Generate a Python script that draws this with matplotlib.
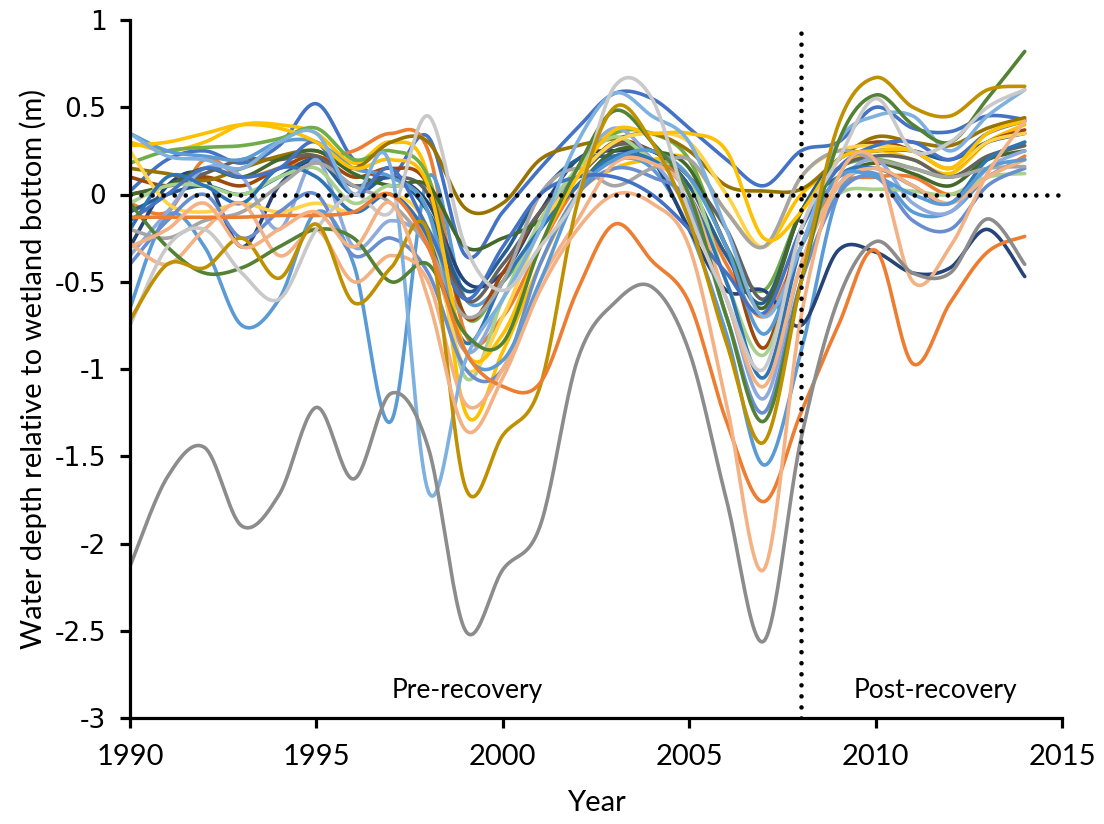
import numpy as np
import matplotlib
matplotlib.use("Agg")
import matplotlib.pyplot as plt

years = list(range(1990, 2015))

# water depth per wetland, one value per year 1990..2014
blue_a = [0.02, 0.2, 0.25, 0.18, 0.28, 0.52, 0.2, 0.1, 0.33, -0.35, -0.1, 0.15, 0.38, 0.58, 0.55, 0.38, 0.2, 0.05, 0.25, 0.3, 0.5, 0.38, 0.36, 0.45, 0.43]
orange_a = [-0.13, -0.13, -0.13, -0.13, -0.12, -0.12, -0.1, 0.0, -0.3, -0.9, -1.1, -1.08, -0.55, -0.17, -0.38, -0.62, -1.3, -1.76, -1.25, -0.75, -0.32, -0.97, -0.62, -0.33, -0.24]
orange_b = [-0.05, -0.1, 0.2, 0.1, 0.15, 0.2, 0.25, 0.35, 0.25, -0.8, -0.7, -0.3, 0.05, 0.2, 0.2, 0.05, -0.4, -0.7, -0.3, 0.05, 0.1, 0.1, 0.0, 0.1, 0.22]
gold_a = [0.3, 0.25, 0.3, 0.4, 0.4, 0.35, 0.18, 0.3, 0.1, -1.25, -0.9, -0.4, 0.0, 0.15, 0.2, 0.2, -0.1, -0.3, 0.0, 0.15, 0.25, 0.2, 0.12, 0.3, 0.4]
ltblue_a = [-0.65, -0.12, -0.3, -0.75, -0.6, -0.1, -0.4, -1.3, 0.1, -0.6, -0.5, -0.2, 0.05, 0.2, 0.15, -0.2, -0.8, -1.55, -0.9, 0.0, 0.12, -0.1, -0.1, 0.1, 0.2]
sky_a = [0.35, 0.22, 0.2, 0.15, 0.3, 0.35, 0.0, 0.15, -1.7, -0.95, -0.6, -0.2, 0.3, 0.58, 0.45, 0.3, -0.2, -0.7, -0.3, 0.3, 0.45, 0.45, 0.25, 0.45, 0.6]
green_a = [0.18, 0.25, 0.27, 0.28, 0.32, 0.38, 0.2, 0.25, 0.1, -0.7, -0.5, -0.2, 0.15, 0.35, 0.35, 0.2, -0.3, -0.55, -0.1, 0.15, 0.2, 0.15, 0.1, 0.2, 0.3]
dkgreen_a = [-0.05, -0.3, -0.45, -0.42, -0.3, -0.2, -0.25, -0.5, -0.4, -0.8, -0.85, -0.3, 0.15, 0.48, 0.3, 0.0, -0.7, -1.3, -0.5, 0.3, 0.57, 0.4, 0.3, 0.55, 0.82]
dkblue_a = [-0.3, 0.05, 0.1, -0.3, 0.05, 0.2, 0.05, 0.1, -0.05, -0.5, -0.45, -0.1, 0.2, 0.25, 0.2, -0.2, -0.55, -0.55, -0.75, -0.32, -0.33, -0.45, -0.42, -0.2, -0.47]
brown_a = [0.1, 0.05, 0.1, 0.05, 0.15, 0.22, 0.1, 0.15, 0.05, -0.7, -0.45, -0.1, 0.1, 0.3, 0.25, 0.1, -0.3, -0.88, -0.2, 0.2, 0.3, 0.25, 0.15, 0.3, 0.37]
dkgrey_a = [0.0, 0.05, 0.12, 0.2, 0.2, 0.22, 0.05, 0.1, 0.0, -0.6, -0.4, -0.1, 0.1, 0.28, 0.25, 0.1, -0.2, -0.6, -0.1, 0.15, 0.22, 0.2, 0.1, 0.22, 0.28]
olive_a = [0.15, 0.12, 0.08, 0.15, 0.22, 0.25, 0.15, 0.3, 0.3, -0.08, -0.05, 0.2, 0.28, 0.32, 0.35, 0.25, 0.05, 0.02, 0.03, 0.2, 0.33, 0.3, 0.28, 0.38, 0.44]
steel_a = [-0.1, 0.0, 0.05, 0.0, 0.1, 0.2, 0.0, 0.1, -0.1, -0.55, -0.35, 0.0, 0.2, 0.22, 0.25, 0.05, -0.35, -0.62, -0.1, 0.2, 0.25, 0.25, 0.2, 0.3, 0.35]
dkgreen_b = [0.0, 0.05, 0.15, 0.1, 0.2, 0.25, 0.12, 0.05, 0.05, -0.3, -0.25, -0.15, 0.05, 0.25, 0.25, 0.15, -0.3, -0.65, -0.1, 0.1, 0.18, 0.12, 0.05, 0.2, 0.25]
periw_a = [-0.35, -0.1, 0.15, 0.1, -0.2, 0.2, -0.3, -0.15, -0.3, -0.9, -0.6, -0.2, 0.15, 0.38, 0.2, -0.1, -0.6, -1.17, -0.4, 0.05, 0.2, -0.05, -0.1, 0.15, 0.25]
ltgrey_a = [-0.75, -0.3, -0.2, -0.45, -0.6, -0.2, 0.0, -0.1, 0.45, -0.3, -0.55, -0.3, 0.0, 0.62, 0.55, -0.1, -0.6, -1.0, -0.2, 0.2, 0.55, 0.25, 0.3, 0.5, 0.6]
ltgreen_a = [-0.05, 0.05, 0.05, 0.0, 0.1, 0.15, -0.05, 0.05, -0.1, -1.05, -0.6, -0.15, 0.15, 0.33, 0.2, 0.1, -0.5, -0.92, -0.3, 0.0, 0.03, 0.02, 0.0, 0.1, 0.12]
yellow_a = [0.25, -0.05, -0.1, -0.05, -0.1, -0.05, -0.1, 0.0, -0.2, -1.0, -0.7, -0.2, 0.1, 0.3, 0.35, 0.3, 0.0, -0.3, 0.1, 0.25, 0.28, 0.25, 0.15, 0.3, 0.35]
medblue_a = [-0.2, 0.1, 0.05, -0.05, 0.15, 0.1, -0.1, 0.0, -0.25, -0.85, -0.5, -0.2, 0.05, 0.22, 0.2, 0.0, -0.5, -1.05, -0.3, 0.1, 0.15, 0.05, -0.05, 0.2, 0.3]
cornfl_a = [-0.4, -0.15, 0.0, -0.25, -0.1, 0.0, -0.35, -0.25, -0.45, -1.0, -1.0, -0.4, 0.0, 0.15, 0.1, -0.05, -0.7, -1.25, -0.5, 0.0, 0.1, -0.15, -0.2, 0.05, 0.15]
grey_b = [-0.2, -0.25, -0.15, -0.1, 0.05, 0.18, 0.05, -0.05, -0.3, -0.7, -0.5, 0.0, 0.15, 0.05, 0.15, 0.2, -0.1, -0.3, 0.1, 0.25, 0.2, 0.15, 0.1, 0.15, 0.16]
peach_a = [-0.28, -0.4, -0.2, -0.05, -0.35, -0.2, -0.5, -0.35, -0.5, -1.2, -1.0, -0.5, -0.15, 0.18, 0.18, 0.0, -0.6, -1.1, -0.4, 0.05, 0.15, 0.05, -0.05, 0.1, 0.2]
ltblue_b = [0.35, 0.25, 0.22, 0.2, 0.3, 0.3, 0.15, 0.1, -0.1, -0.9, -0.95, -0.5, 0.0, 0.2, 0.25, 0.1, -0.3, -0.8, -0.3, 0.1, 0.1, 0.0, -0.05, 0.15, 0.2]
blue_b = [-0.15, 0.0, 0.15, 0.1, 0.15, 0.3, 0.0, 0.15, -0.2, -0.6, -0.3, 0.0, 0.1, 0.1, 0.0, -0.2, -0.45, -0.68, -0.2, 0.15, 0.28, 0.3, 0.2, 0.35, 0.42]
gold_b = [0.28, 0.3, 0.35, 0.4, 0.38, 0.3, 0.15, 0.2, 0.05, -0.9, -0.8, -0.3, 0.1, 0.37, 0.35, 0.35, 0.25, -0.25, -0.1, 0.2, 0.25, 0.25, 0.15, 0.35, 0.42]
mustard_a = [-0.72, -0.4, -0.42, -0.25, -0.48, -0.17, -0.62, -0.42, -0.22, -1.68, -1.38, -1.1, -0.05, 0.5, 0.3, -0.15, -0.85, -1.42, -0.5, 0.4, 0.67, 0.5, 0.45, 0.6, 0.62]
salmon_a = [-0.3, -0.2, -0.05, -0.3, -0.2, -0.1, -0.3, -0.05, -0.6, -1.35, -1.05, -0.55, -0.2, 0.0, -0.05, -0.3, -1.2, -2.15, -0.7, 0.1, 0.19, -0.5, -0.3, 0.12, 0.42]
grey_low = [-2.13, -1.62, -1.45, -1.9, -1.72, -1.22, -1.63, -1.14, -1.45, -2.5, -2.15, -1.9, -0.95, -0.62, -0.53, -0.9, -1.75, -2.56, -1.4, -0.6, -0.27, -0.45, -0.45, -0.14, -0.4]

series = [
    (blue_a, "#4472C4"), (orange_b, "#ED7D31"), (gold_a, "#FFC000"),
    (ltblue_a, "#5B9BD5"), (green_a, "#70AD47"), (dkblue_a, "#264478"),
    (brown_a, "#9E480E"), (dkgrey_a, "#636363"), (olive_a, "#997300"),
    (steel_a, "#255E91"), (dkgreen_b, "#43682B"), (periw_a, "#8FAADC"),
    (ltgreen_a, "#A9D18E"), (yellow_a, "#FFD347"), (medblue_a, "#2E75B6"),
    (cornfl_a, "#698ED0"), (grey_b, "#A5A5A5"), (peach_a, "#F4B183"),
    (ltblue_b, "#5B9BD5"), (blue_b, "#4472C4"), (gold_b, "#FFC000"),
    (sky_a, "#7FB1E0"), (dkgreen_a, "#548235"), (ltgrey_a, "#C9C9C9"),
    (mustard_a, "#BF9000"), (orange_a, "#ED7D31"), (salmon_a, "#F4B183"),
    (grey_low, "#8C8C8C"),
]


def smooth(x, y, n=24):
    # Excel-style smoothed line: cubic Bezier through the points
    x = np.asarray(x, float)
    y = np.asarray(y, float)
    m = len(x)
    xs, ys = [], []
    for i in range(m - 1):
        p0 = max(i - 1, 0)
        p3 = min(i + 2, m - 1)
        c1x = x[i] + (x[i + 1] - x[p0]) / 6
        c1y = y[i] + (y[i + 1] - y[p0]) / 6
        c2x = x[i + 1] - (x[p3] - x[i]) / 6
        c2y = y[i + 1] - (y[p3] - y[i]) / 6
        t = np.linspace(0, 1, n, endpoint=(i == m - 2))
        a, b, c, d = (1 - t) ** 3, 3 * t * (1 - t) ** 2, 3 * t ** 2 * (1 - t), t ** 3
        xs.append(a * x[i] + b * c1x + c * c2x + d * x[i + 1])
        ys.append(a * y[i] + b * c1y + c * c2y + d * y[i + 1])
    return np.concatenate(xs), np.concatenate(ys)


narrow = ["Lato", "DejaVu Sans"]

fig = plt.figure(figsize=(11.04, 8.24), dpi=100)
ax = fig.add_axes([130 / 1104, 106 / 824, 932 / 1104, 698 / 824])

for vals, col in series:
    sx, sy = smooth(years, vals)
    ax.plot(sx, sy, color=col, lw=2.6, solid_capstyle="round")

ax.plot([1990, 2015], [0, 0], color="black", lw=3.3, linestyle=(0, (0.01, 2.4)),
        dash_capstyle="round")
ax.plot([2008, 2008], [-3, 0.95], color="black", lw=3.3, linestyle=(0, (0.01, 2.4)),
        dash_capstyle="round")

ax.text(1999.05, -2.84, "Pre-recovery", ha="center", va="center", fontsize=19, family=narrow)
ax.text(2011.6, -2.84, "Post-recovery", ha="center", va="center", fontsize=19, family=narrow)

ax.set_xlim(1990, 2015)
ax.set_ylim(-3, 1)
ax.set_xticks(range(1990, 2016, 5))
ax.set_xticklabels([str(v) for v in range(1990, 2016, 5)], family=narrow, fontsize=21)
yt = [-3, -2.5, -2, -1.5, -1, -0.5, 0, 0.5, 1]
ax.set_yticks(yt)
ax.set_yticklabels([("%g" % v).replace("\u2212", "-") for v in yt], fontsize=19)

for s in ["top", "right"]:
    ax.spines[s].set_visible(False)
for s in ["left", "bottom"]:
    ax.spines[s].set_linewidth(2.3)
ax.tick_params(direction="out", length=7, width=2.3)
ax.tick_params(axis="x", pad=12)
ax.tick_params(axis="y", pad=10)

ax.set_xlabel("Year", fontsize=21, family=narrow, labelpad=14)
ax.set_ylabel("Water depth relative to wetland bottom (m)", fontsize=21, family=narrow, labelpad=6)

fig.savefig("out.png", dpi=100)
